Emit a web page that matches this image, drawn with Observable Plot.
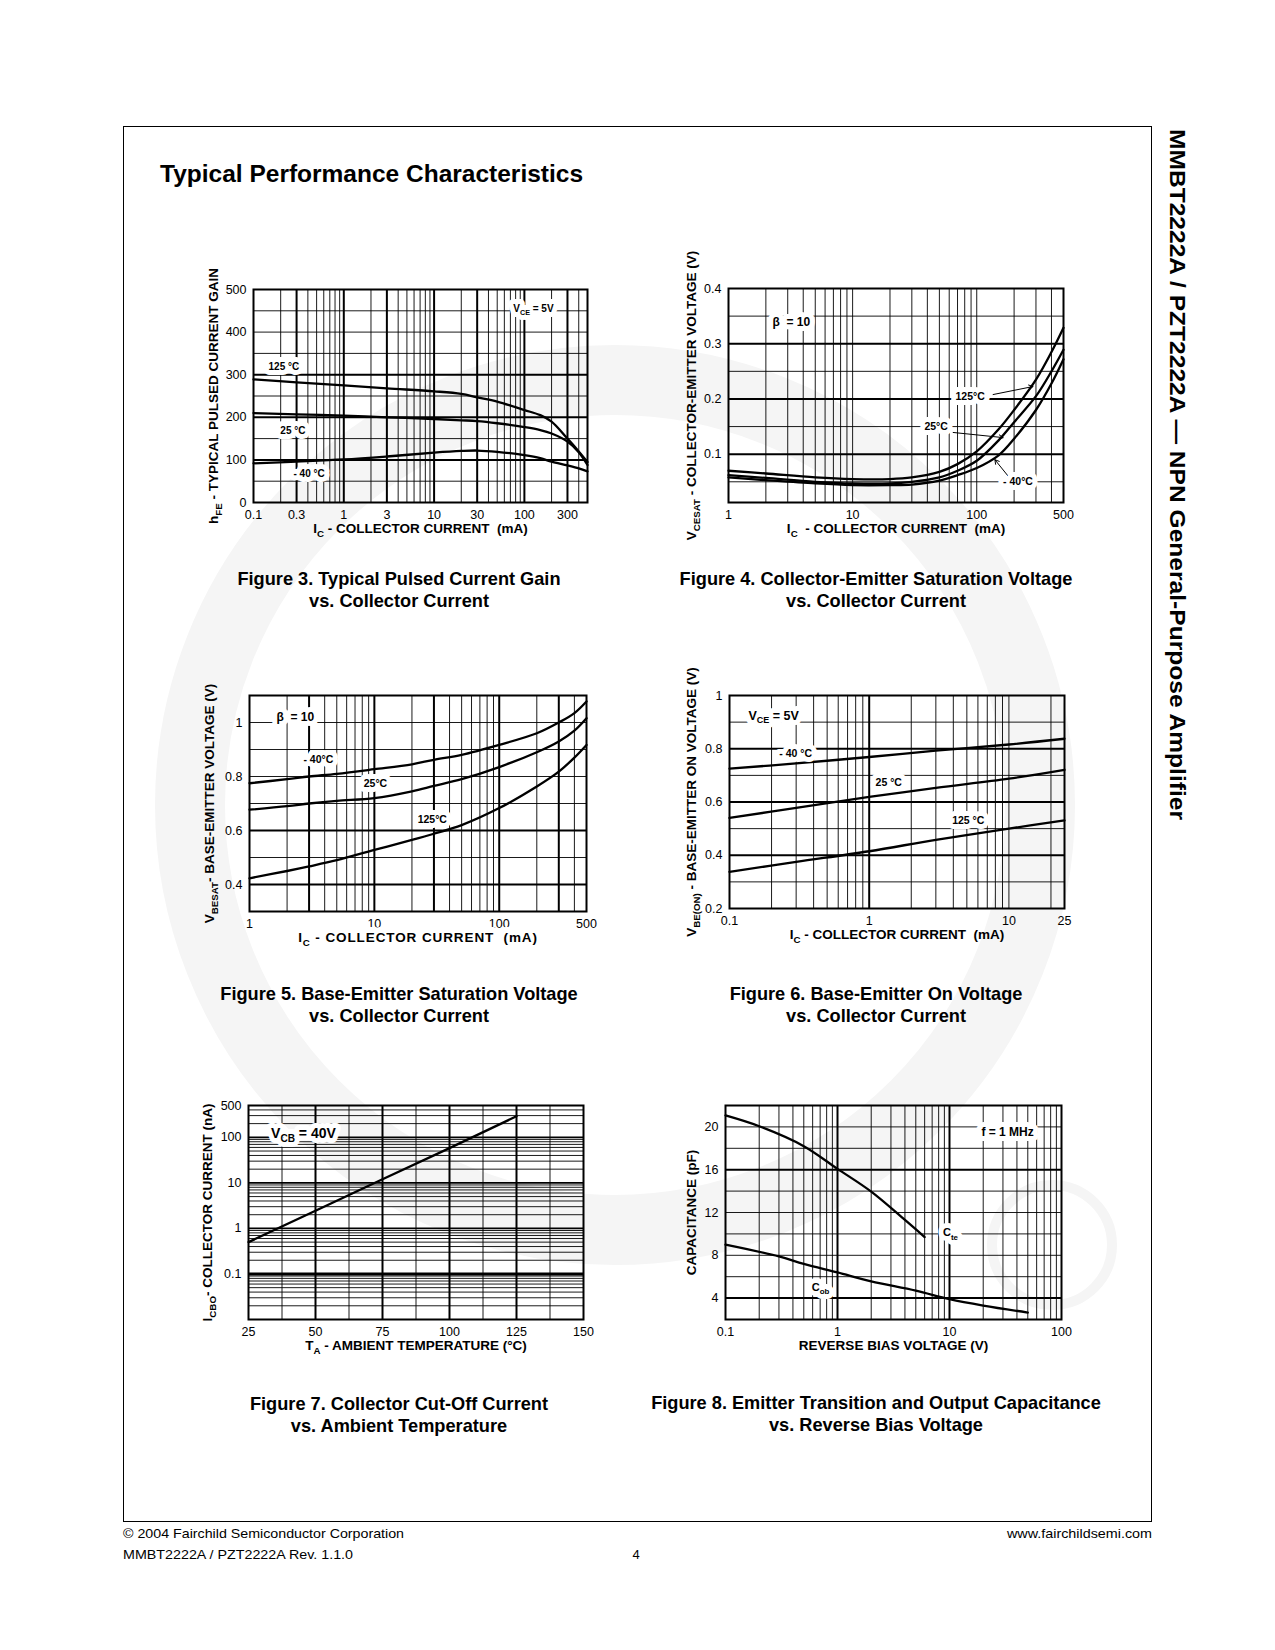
<!DOCTYPE html>
<html><head><meta charset="utf-8">
<script src="https://cdn.jsdelivr.net/npm/d3@7"></script>
<script src="https://cdn.jsdelivr.net/npm/@observablehq/plot@0.6"></script>
<style>
body{margin:0;background:#fff;}
#page{position:relative;width:1275px;height:1650px;overflow:hidden;font-family:"Liberation Sans",Arial,Helvetica,sans-serif;}
.chart{position:absolute;}
.chart svg{display:block;max-width:none;overflow:visible;}
</style></head><body><div id="page"></div>
<script>
// ================= DATA =================
// Figure 3 – hFE vs IC
const fig3_current = [0.1,0.3,1,3,10,20,30,50,100,150,200,300,400,500];
const fig3_hfe_125 = [289,282,275,268,261,255,247,237,217,205,190,150,120,95];
const fig3_hfe_25  = [210,207,204,200,196,193,191,186,177,170,162,143,118,88];
const fig3_hfe_m40 = [92,96,101,108,117,121,122,119,111,104,96,87,80,73];
const fig3_xTicks = [0.1,0.3,1,3,10,30,100,300];
const fig3_yTicks = [0,100,200,300,400,500];
const fig3_gridXMajor = [0.3,1,3,10,30,100,300];
const fig3_gridXMinor = [0.2,0.4,0.5,0.6,0.7,0.8,0.9,2,4,5,6,7,8,9,20,40,50,60,70,80,90,200,400];
const fig3_gridYMajor = [100,200,300];
const fig3_gridYMinor = [50,150,250,350,400,450];
const fig3_labels = [
  {x:0.217,y:319,text:"125 °C",size:10},
  {x:0.273,y:169,text:"25 °C",size:10},
  {x:0.413,y:68,text:"- 40 °C",size:10},
  {x:126,y:455,text:"V_{CE} = 5V",size:10}
];

// Figure 4 – VCE(sat) vs IC
const fig4_current = [1,2,5,10,20,30,50,70,100,150,200,300,400,500];
const fig4_v_125 = [0.070,0.065,0.058,0.055,0.055,0.058,0.068,0.082,0.105,0.145,0.180,0.235,0.285,0.329];
const fig4_v_25  = [0.062,0.057,0.050,0.047,0.047,0.050,0.058,0.070,0.088,0.125,0.158,0.205,0.250,0.289];
const fig4_v_m40 = [0.058,0.053,0.047,0.044,0.044,0.045,0.052,0.062,0.075,0.098,0.128,0.180,0.228,0.272];
const fig4_xTicks = [1,10,100,500];
const fig4_yTicks = [0.1,0.2,0.3,0.4];
const fig4_gridXMinor = [2,3,4,5,6,7,8,9,10,20,30,40,50,60,70,80,90,100,200,300,400];
const fig4_gridYMajor = [0.1,0.2,0.3];
const fig4_gridYMinor = [0.05,0.15,0.25,0.35];
const fig4_labels = [
  {x:3.21,y:0.3385,text:"β  = 10",size:12},
  {x:88.5,y:0.2044,text:"125°C",size:10.5},
  {x:47.1,y:0.150,text:"25°C",size:10.5},
  {x:215,y:0.050,text:"- 40°C",size:10.5}
];
const fig4_arrows = [
  {x1:135.5,y1:0.208,x2:284,y2:0.2225},
  {x1:64.6,y1:0.1393,x2:163,y2:0.130},
  {x1:178,y1:0.061,x2:140,y2:0.090}
];

// Figure 5 – VBE(sat) vs IC
const fig5_current = [1,2,3,5,10,20,30,50,100,200,300,400,500];
const fig5_v_m40 = [0.775,0.790,0.800,0.810,0.827,0.845,0.862,0.880,0.917,0.960,1.000,1.035,1.078];
const fig5_v_25  = [0.677,0.690,0.700,0.710,0.720,0.745,0.765,0.790,0.835,0.890,0.930,0.970,1.016];
const fig5_v_125 = [0.423,0.450,0.467,0.490,0.528,0.565,0.588,0.620,0.683,0.763,0.818,0.870,0.917];
const fig5_xTicks = [1,10,100,500];
const fig5_yTicks = [0.4,0.6,0.8,1];
const fig5_gridXMajor = [3,10,30,100,300];
const fig5_gridXMinor = [2,4,5,6,7,8,9,20,40,50,60,70,80,90,200,400];
const fig5_gridYMajor = [0.4,0.6];
const fig5_gridYMinor = [0.5,0.7,0.8,0.9,1.0];
const fig5_labels = [
  {x:2.33,y:1.0185,text:"β  = 10",size:12},
  {x:3.56,y:0.863,text:"- 40°C",size:10.5},
  {x:10.2,y:0.774,text:"25°C",size:10.5},
  {x:29.1,y:0.641,text:"125°C",size:10.5}
];

// Figure 6 – VBE(on) vs IC
const fig6_current = [0.1,0.3,1,3,10,25];
const fig6_v_m40 = [0.725,0.745,0.769,0.793,0.816,0.8375];
const fig6_v_25  = [0.540,0.578,0.619,0.653,0.6875,0.721];
const fig6_v_125 = [0.3375,0.375,0.415,0.458,0.500,0.531];
const fig6_xTicks = [0.1,1,10,25];
const fig6_yTicks = [0.2,0.4,0.6,0.8,1];
const fig6_gridXMajor = [1];
const fig6_gridXMinor = [0.2,0.3,0.4,0.5,0.6,0.7,0.8,0.9,2,3,4,5,6,7,8,9,10,20];
const fig6_gridYMajor = [0.4,0.6,0.8];
const fig6_gridYMinor = [0.3,0.5,0.7,0.9];
const fig6_labels = [
  {x:0.207,y:0.924,text:"V_{CE} = 5V",size:12.5},
  {x:0.298,y:0.781,text:"- 40 °C",size:10.5},
  {x:1.38,y:0.672,text:"25 °C",size:10.5},
  {x:5.12,y:0.530,text:"125 °C",size:10.5}
];

// Figure 7 – ICBO vs TA
const fig7_temp = [25,50,75,100,125];
const fig7_icbo = [0.5,2.45,12,58,290];
const fig7_xTicks = [25,50,75,100,125,150];
const fig7_yTicks = [0.1,1,10,100,500];
const fig7_gridXMajor = [50,75,100,125];
const fig7_gridXMinor = [37.5,62.5,87.5,112.5,137.5];
const fig7_gridYHeavy = [0.1];
const fig7_gridYMajor = [1,10,100];
const fig7_gridYMinor = [0.02,0.03,0.04,0.05,0.06,0.07,0.08,0.09,0.2,0.3,0.4,0.5,0.6,0.7,0.8,0.9,2,3,4,5,6,7,8,9,20,30,40,50,60,70,80,90,200,300,400];
const fig7_labels = [{x:45.5,y:120,text:"V_{CB} = 40V",size:14}];

// Figure 8 – Capacitance vs reverse bias
const fig8_cte_v = [0.1,0.2,0.5,1,2,4,6];
const fig8_cte   = [21.07,20.06,18.2,16.08,13.95,11.3,9.7];
const fig8_cob_v = [0.1,0.3,0.5,1,2,5,10,20,50];
const fig8_cob   = [9.0,7.9,7.2,6.4,5.57,4.7,3.9,3.3,2.65];
const fig8_xTicks = [0.1,1,10,100];
const fig8_yTicks = [4,8,12,16,20];
const fig8_gridXMajor = [1,10];
const fig8_gridXMinor = [0.2,0.3,0.4,0.5,0.6,0.7,0.8,0.9,2,3,4,5,6,7,8,9,20,30,40,50,60,70,80,90];
const fig8_gridYMajor = [4,16];
const fig8_gridYMinor = [6,8,10,12,14,18,20];
const fig8_labels = [
  {x:33,y:19.5,text:"f = 1 MHz",size:12},
  {x:10.2,y:10.1,text:"C_{te}",size:11},
  {x:0.705,y:5.0,text:"C_{ob}",size:11}
];

// ================= PAGE =================
const FONT = '"Liberation Sans", Arial, Helvetica, sans-serif';
const pageEl = document.getElementById("page");
const page = d3.select(pageEl);
const bg = page.append("svg").attr("width",1275).attr("height",1650)
  .style("position","absolute").style("left","0px").style("top","0px")
  .attr("font-family",FONT);

// faint watermark logo
bg.append("circle").attr("cx",615).attr("cy",805).attr("r",425)
  .attr("fill","none").attr("stroke","#f5f5f5").attr("stroke-width",70);
bg.append("circle").attr("cx",1052).attr("cy",1245).attr("r",60)
  .attr("fill","none").attr("stroke","#f5f5f5").attr("stroke-width",10);

// border
bg.append("rect").attr("x",123.5).attr("y",126.5).attr("width",1028).attr("height",1395)
  .attr("fill","none").attr("stroke","#000").attr("stroke-width",1);

// title
bg.append("text").attr("x",160).attr("y",182).attr("font-size",24.5).attr("font-weight","bold")
  .text("Typical Performance Characteristics");

// side text
bg.append("text").attr("transform","translate(1170,129) rotate(90)")
  .attr("font-size",22).attr("font-weight","bold")
  .attr("textLength",691).attr("lengthAdjust","spacingAndGlyphs")
  .text("MMBT2222A / PZT2222A — NPN General-Purpose Amplifier");

// footer
const footer = [
  {x:123,y:1538,anchor:"start",len:281,text:"© 2004 Fairchild Semiconductor Corporation"},
  {x:123,y:1559,anchor:"start",len:230,text:"MMBT2222A / PZT2222A Rev. 1.1.0"},
  {x:1152,y:1538,anchor:"end",len:145,text:"www.fairchildsemi.com"},
  {x:636,y:1559,anchor:"middle",len:null,text:"4"}
];
footer.forEach(f=>{
  const t = bg.append("text").attr("x",f.x).attr("y",f.y).attr("text-anchor",f.anchor)
    .attr("font-size",13).text(f.text);
  if (f.len) t.attr("textLength",f.len).attr("lengthAdjust","spacingAndGlyphs");
});

// captions
const captions = [
  {cx:399,y:585,lines:["Figure 3. Typical Pulsed Current Gain","vs. Collector Current"]},
  {cx:876,y:585,lines:["Figure 4. Collector-Emitter Saturation Voltage","vs. Collector Current"]},
  {cx:399,y:1000,lines:["Figure 5. Base-Emitter Saturation Voltage","vs. Collector Current"]},
  {cx:876,y:1000,lines:["Figure 6. Base-Emitter On Voltage","vs. Collector Current"]},
  {cx:399,y:1410,lines:["Figure 7. Collector Cut-Off Current","vs. Ambient Temperature"]},
  {cx:876,y:1409,lines:["Figure 8. Emitter Transition and Output Capacitance","vs. Reverse Bias Voltage"]}
];
captions.forEach(c=>{
  c.lines.forEach((ln,i)=>{
    bg.append("text").attr("x",c.cx).attr("y",c.y+i*22).attr("text-anchor","middle")
      .attr("font-size",18.2).attr("font-weight","bold").text(ln);
  });
});

// ================= CHART HELPERS =================
function zipXY(xs, ys){ return xs.map((x,i)=>({x, y:ys[i]})); }

function subscriptify(svg){
  const NS = "http://www.w3.org/2000/svg";
  svg.querySelectorAll("text").forEach(t=>{
    const leaves = t.querySelector("tspan") ? [...t.querySelectorAll("tspan")] : [t];
    leaves.forEach(el=>{
      const s = el.textContent;
      if (!s.includes("_{")) return;
      const fs = parseFloat(getComputedStyle(el).fontSize) || 12;
      const shift = (fs*0.3).toFixed(2);
      el.textContent = "";
      const re = /_\{([^}]*)\}/g; let last = 0, m, pendingUp = false;
      const add = (str, sub) => {
        const ts = document.createElementNS(NS,"tspan");
        if (sub){ ts.setAttribute("dy",shift); ts.setAttribute("font-size",(fs*0.72).toFixed(2)); }
        else if (pendingUp){ ts.setAttribute("dy","-"+shift); }
        ts.textContent = str; el.appendChild(ts);
        pendingUp = sub;
      };
      while ((m = re.exec(s))){
        if (m.index > last) add(s.slice(last,m.index), false);
        add(m[1], true);
        last = re.lastIndex;
      }
      if (last < s.length) add(s.slice(last), false);
    });
  });
}

function chart(o){
  const [fx0,fy0,fx1,fy1] = o.frame;
  const ml=70, mr=25, mt=20, mb=50;
  const marks = [];
  const thin = 0.9, thick = 2;
  const TS = 13.5;
  if (o.gxMinor) marks.push(Plot.ruleX(o.gxMinor,{stroke:"#000",strokeWidth:thin}));
  if (o.gxMajor) marks.push(Plot.ruleX(o.gxMajor,{stroke:"#000",strokeWidth:thick}));
  if (o.gyMinor) marks.push(Plot.ruleY(o.gyMinor,{stroke:"#000",strokeWidth:thin}));
  if (o.gyMajor) marks.push(Plot.ruleY(o.gyMajor,{stroke:"#000",strokeWidth:o.gyMajorWidth||thick}));
  if (o.gyHeavy) marks.push(Plot.ruleY(o.gyHeavy,{stroke:"#000",strokeWidth:3}));
  o.lines.forEach(l=>marks.push(Plot.line(l,{x:"x",y:"y",stroke:"#000",strokeWidth:2.3,curve:o.curve||"catmull-rom"})));
  if (o.arrows) marks.push(Plot.arrow(o.arrows,{x1:"x1",y1:"y1",x2:"x2",y2:"y2",stroke:"#000",strokeWidth:1,headLength:7}));
  marks.push(Plot.frame({stroke:"#000",strokeWidth:2}));
  // tick labels
  marks.push(Plot.text(o.xTicks,{x:d=>d,frameAnchor:"bottom",lineAnchor:"top",dy:8,text:d=>String(d),fontSize:12.5,fill:"#000"}));
  marks.push(Plot.text(o.yTicks,{y:d=>d,frameAnchor:"left",textAnchor:"end",dx:-7,text:d=>String(d),fontSize:12.5,fill:"#000"}));
  if (o.labels){
    // white box-like halo underneath, then the text itself
    marks.push(Plot.text(o.labels,{x:"x",y:"y",text:"text",fontSize:d=>d.size,fontWeight:"bold",
      fill:"white",stroke:"white",strokeWidth:10,strokeLinejoin:"round"}));
    marks.push(Plot.text(o.labels,{x:"x",y:"y",text:"text",fontSize:d=>d.size,fontWeight:"bold",fill:"#000"}));
  }
  if (o.xTitleHalo) marks.push(Plot.text([o.xTitle],{frameAnchor:"bottom",dy:30,textAnchor:"middle",fontWeight:"bold",fontSize:TS,
      fill:"white",stroke:"white",strokeWidth:o.xTitleHalo,strokeLinejoin:"round"}));
  marks.push(Plot.text([o.xTitle],{frameAnchor:"bottom",dy:30,textAnchor:"middle",fontWeight:"bold",fontSize:TS,fill:"#000"}));
  marks.push(Plot.text([o.yTitle],{frameAnchor:"left",dx:o.yDx,rotate:-90,textAnchor:"middle",fontWeight:"bold",fontSize:TS,fill:"#000"}));
  const svg = Plot.plot({
    width: fx1-fx0+ml+mr, height: fy1-fy0+mt+mb,
    marginLeft: ml, marginRight: mr, marginTop: mt, marginBottom: mb,
    style: {fontFamily: FONT, fontSize: "12.5px", background: "transparent", color: "#000", overflow: "visible"},
    x: Object.assign({domain:o.xDomain, axis:null}, o.xType?{type:o.xType}:{}),
    y: Object.assign({domain:o.yDomain, axis:null}, o.yType?{type:o.yType}:{}),
    marks
  });
  const div = document.createElement("div");
  div.className = "chart";
  div.style.left = (fx0-ml)+"px"; div.style.top = (fy0-mt)+"px";
  div.appendChild(svg); pageEl.appendChild(div);
  if (o.xTitleSpacing){
    svg.querySelectorAll("text").forEach(t=>{ if (t.textContent === o.xTitle) t.style.letterSpacing = o.xTitleSpacing; });
  }
  subscriptify(svg);
}

// ================= CHARTS =================
chart({
  frame:[253,289,587,502], xType:"log", xDomain:[0.1,500], yDomain:[0,500],
  xTicks:fig3_xTicks, yTicks:fig3_yTicks,
  gxMajor:fig3_gridXMajor, gxMinor:fig3_gridXMinor, gyMajor:fig3_gridYMajor, gyMinor:fig3_gridYMinor,
  lines:[zipXY(fig3_current,fig3_hfe_125), zipXY(fig3_current,fig3_hfe_25), zipXY(fig3_current,fig3_hfe_m40)],
  labels:fig3_labels,
  xTitle:"I_{C} - COLLECTOR CURRENT  (mA)", yTitle:"h_{FE} - TYPICAL PULSED CURRENT GAIN", yDx:-39.5
});
chart({
  frame:[728,288,1063,502], xType:"log", xDomain:[1,500], yDomain:[0.0125,0.4],
  xTicks:fig4_xTicks, yTicks:fig4_yTicks,
  gxMinor:fig4_gridXMinor, gyMajor:fig4_gridYMajor, gyMinor:fig4_gridYMinor,
  lines:[zipXY(fig4_current,fig4_v_125), zipXY(fig4_current,fig4_v_25), zipXY(fig4_current,fig4_v_m40)],
  labels:fig4_labels, arrows:fig4_arrows,
  xTitle:"I_{C}  - COLLECTOR CURRENT  (mA)", yTitle:"V_{CESAT} - COLLECTOR-EMITTER VOLTAGE (V)", yDx:-37
});
chart({
  frame:[249,695,586,911], xType:"log", xDomain:[1,500], yDomain:[0.3,1.1],
  xTicks:fig5_xTicks, yTicks:fig5_yTicks,
  gxMajor:fig5_gridXMajor, gxMinor:fig5_gridXMinor, gyMajor:fig5_gridYMajor, gyMinor:fig5_gridYMinor,
  lines:[zipXY(fig5_current,fig5_v_m40), zipXY(fig5_current,fig5_v_25), zipXY(fig5_current,fig5_v_125)],
  labels:fig5_labels, xTitleHalo:12, xTitleSpacing:"0.9px",
  xTitle:"I_{C} - COLLECTOR CURRENT  (mA)", yTitle:"V_{BESAT}- BASE-EMITTER VOLTAGE (V)", yDx:-40
});
chart({
  frame:[729,695,1064,908], xType:"log", xDomain:[0.1,25], yDomain:[0.2,1],
  xTicks:fig6_xTicks, yTicks:fig6_yTicks,
  gxMajor:fig6_gridXMajor, gxMinor:fig6_gridXMinor, gyMajor:fig6_gridYMajor, gyMinor:fig6_gridYMinor,
  lines:[zipXY(fig6_current,fig6_v_m40), zipXY(fig6_current,fig6_v_25), zipXY(fig6_current,fig6_v_125)],
  labels:fig6_labels,
  xTitle:"I_{C} - COLLECTOR CURRENT  (mA)", yTitle:"V_{BE(ON)} - BASE-EMITTER ON VOLTAGE (V)", yDx:-38
});
chart({
  frame:[248,1105,583,1319], yType:"log", xDomain:[25,150], yDomain:[0.01,500],
  xTicks:fig7_xTicks, yTicks:fig7_yTicks, curve:"linear",
  gxMajor:fig7_gridXMajor, gxMinor:fig7_gridXMinor, gyHeavy:fig7_gridYHeavy, gyMajor:fig7_gridYMajor, gyMajorWidth:1.6, gyMinor:fig7_gridYMinor,
  lines:[zipXY(fig7_temp,fig7_icbo)],
  labels:fig7_labels,
  xTitle:"T_{A} - AMBIENT TEMPERATURE (°C)", yTitle:"I_{CBO}- COLLECTOR CURRENT (nA)", yDx:-41
});
chart({
  frame:[725,1105,1061,1319], xType:"log", xDomain:[0.1,100], yDomain:[2,22],
  xTicks:fig8_xTicks, yTicks:fig8_yTicks,
  gxMajor:fig8_gridXMajor, gxMinor:fig8_gridXMinor, gyMajor:fig8_gridYMajor, gyMinor:fig8_gridYMinor,
  lines:[zipXY(fig8_cte_v,fig8_cte), zipXY(fig8_cob_v,fig8_cob)],
  labels:fig8_labels,
  xTitle:"REVERSE BIAS VOLTAGE (V)", yTitle:"CAPACITANCE (pF)", yDx:-34
});
</script>
</body></html>
